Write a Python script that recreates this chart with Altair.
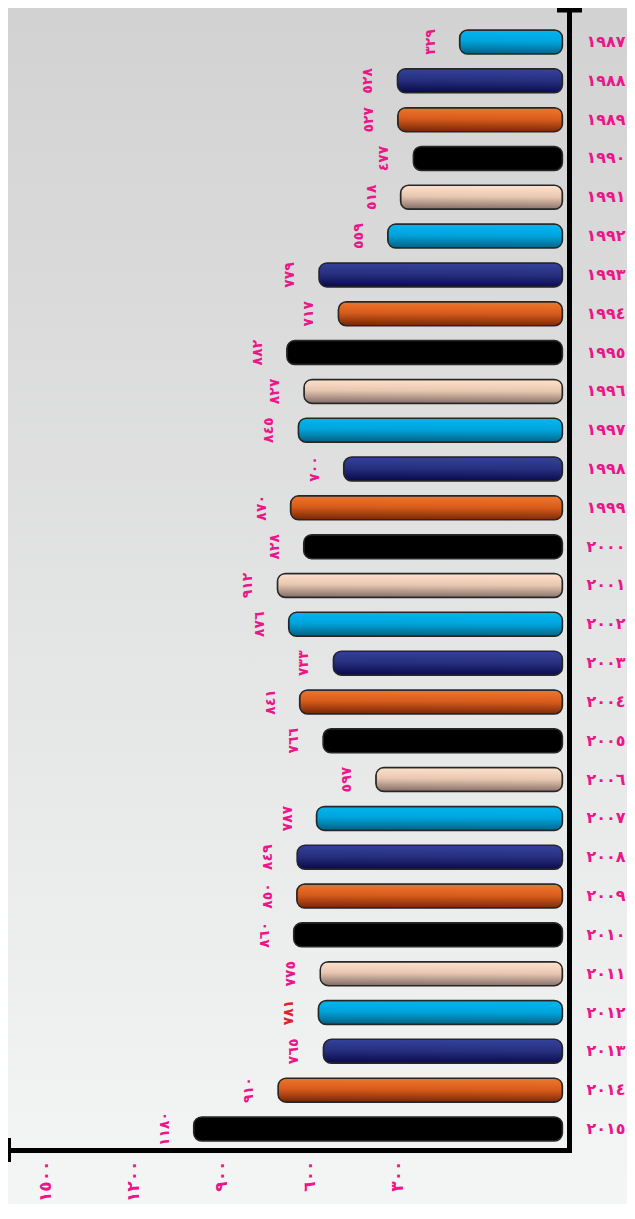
import altair as alt
import pandas as pd

# ---- data ----
years = [1987, 1988, 1989, 1990, 1991, 1992, 1993, 1994, 1995, 1996,
         1997, 1998, 1999, 2000, 2001, 2002, 2003, 2004, 2005, 2006,
         2007, 2008, 2009, 2010, 2011, 2012, 2013, 2014, 2015]
values = [329, 528, 527, 477, 518, 559, 779, 717, 882, 827,
          845, 700, 870, 828, 912, 876, 733, 841, 766, 597,
          787, 849, 850, 860, 775, 781, 765, 910, 1180]
tick_values = [300, 600, 900, 1200, 1500]
highlight_year = 2012

AR = str.maketrans("0123456789", "٠١٢٣٤٥٦٧٨٩")


def ar(n):
    return str(n).translate(AR)


PINK = "#ec168a"
RED = "#d7262e"
FONT = "DejaVu Sans"

W, H = 560, 1142
PAD = {"left": 1, "top": 0, "right": 58, "bottom": 54}

df = pd.DataFrame({
    "year": [ar(y) for y in years],
    "value": values,
    "label": [ar(v) for v in values],
    "style": [i % 5 for i in range(len(years))],
})


def grad(top, mid, bottom):
    return alt.Gradient(
        gradient="linear",
        stops=[alt.GradientStop(color=bottom, offset=0),
               alt.GradientStop(color=mid, offset=0.55),
               alt.GradientStop(color=top, offset=1)],
        x1=0, x2=0.05, y1=1, y2=0,
    )


fills = [
    grad("#00b6f0", "#00a4dc", "#045f80"),   # cyan
    grad("#34419a", "#27307f", "#08084a"),   # navy
    grad("#ec762c", "#d85c1c", "#742506"),   # orange
    "#000000",                               # black
    grad("#fde0cb", "#e8c7b1", "#7f6b64"),   # beige
]

y_scale = alt.Scale(paddingInner=0.382, paddingOuter=0.4, align=0.709)
y_axis = alt.Axis(orient="right", title=None, ticks=False, tickSize=0,
                  labelPadding=17, labelFont=FONT, labelFontSize=16,
                  labelFontWeight="bold", labelColor=PINK, labelAlign="left",
                  labelBaseline="middle", domainWidth=5, domainColor="black",
                  domainCap="square", grid=False, zindex=2)
y_enc = alt.Y("year:N", sort=df["year"].tolist(), scale=y_scale, axis=y_axis)
x_scale = alt.Scale(domain=[-21, 1771], reverse=True, nice=False)
x_enc = alt.X("value:Q", scale=x_scale, axis=None)

one = pd.DataFrame({"a": [0]})

bg = alt.Chart(one).mark_rect(
    fill=alt.Gradient(gradient="linear",
                      stops=[alt.GradientStop(color="#d2d2d2", offset=0),
                             alt.GradientStop(color="#f4f5f5", offset=1)],
                      x1=0, x2=0, y1=0, y2=1)
).encode(x=alt.value(-PAD["left"]), x2=alt.value(W + PAD["right"]),
         y=alt.value(0), y2=alt.value(H + PAD["bottom"]))

layers = [bg]
for k, f in enumerate(fills):
    layers.append(
        alt.Chart(df).transform_filter(alt.datum.style == k).mark_bar(
            cornerRadius=8, fill=f, stroke="#262626", strokeWidth=1.5
        ).encode(x=x_enc, y=y_enc)
    )

labels = alt.Chart(df).mark_text(
    angle=270, xOffset=-29, font=FONT, fontWeight="bold", fontSize=14,
    align="center", baseline="middle"
).encode(
    x=x_enc, y=y_enc, text="label:N",
    color=alt.condition(alt.datum.year == ar(highlight_year),
                        alt.value(RED), alt.value(PINK)),
)
layers.append(labels)

label_expr = " : ".join(
    [f"datum.value == {t} ? '{ar(t)}'" for t in tick_values]) + " : ''"

axis_layer = alt.Chart(pd.DataFrame({"tick": tick_values})).mark_point(
    opacity=0
).encode(
    x=alt.X("tick:Q",
            scale=alt.Scale(domain=[-286, 1623], reverse=True, nice=False, zero=False),
            axis=alt.Axis(values=tick_values, orient="bottom", title=None,
                          labelAngle=270, labelExpr=label_expr, labelFont=FONT,
                          labelFontSize=17, labelFontWeight="bold",
                          labelColor=PINK, ticks=False, tickSize=0,
                          labelPadding=10, domainWidth=5, domainColor="black",
                          domainCap="square", grid=False, zindex=2))
)
layers.append(axis_layer)

top_cap = alt.Chart(one).mark_rule(color="black", strokeWidth=5).encode(
    x=alt.value(548), x2=alt.value(573), y=alt.value(2))
left_cap = alt.Chart(one).mark_rule(color="black", strokeWidth=4).encode(
    x=alt.value(0), y=alt.value(H - 12), y2=alt.value(H + 12))
layers += [top_cap, left_cap]

chart = alt.layer(*layers).resolve_scale(x="independent").properties(
    width=W, height=H,
    autosize=alt.AutoSizeParams(type="none"),
    padding=PAD,
    background="#e6e6e6",
).configure_view(stroke=None)

chart.save("out.html", embed_options={"renderer": "svg", "actions": False})
